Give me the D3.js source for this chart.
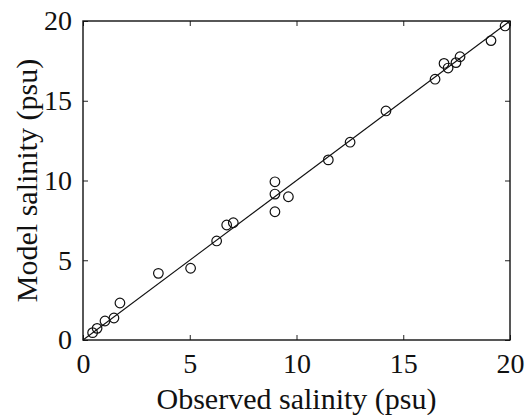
<!DOCTYPE html>
<html>
<head>
<meta charset="utf-8">
<script src="https://cdn.jsdelivr.net/npm/d3@7"></script>
</head>
<body style="margin:0">
<script>
// observed vs model salinity (psu)
const observed = [0.45, 0.66, 1.03, 1.45, 1.73, 3.53, 5.04, 6.26, 6.73, 7.04,
  8.99, 8.99, 8.99, 9.62, 11.49, 12.51, 14.19, 16.49, 16.91, 17.10,
  17.47, 17.66, 19.11, 19.77];
const model = [0.46, 0.73, 1.19, 1.38, 2.32, 4.18, 4.50, 6.21, 7.21, 7.35,
  8.04, 9.92, 9.15, 8.98, 11.29, 12.40, 14.36, 16.35, 17.34, 17.05,
  17.39, 17.76, 18.77, 19.69];
// 1:1 line
const lineX = [0, 20];
const lineY = [0, 20];
const ticks = [0, 5, 10, 15, 20];

const W = 525;
const H = 415;
const margin = { top: 21, right: 15, bottom: 75, left: 83 };
const FONT = 'Liberation Serif';

const svg = d3.select('body').append('svg')
  .attr('width', W)
  .attr('height', H)
  .attr('font-family', FONT);

const x = d3.scaleLinear().domain([0, 20]).range([margin.left, W - margin.right]);
const y = d3.scaleLinear().domain([0, 20]).range([H - margin.bottom, margin.top]);

// axes with inward ticks on all four sides
const tickLen = 5;
const axes = [
  [d3.axisBottom(x).tickPadding(13), `translate(0,${y(0)})`, true],
  [d3.axisTop(x), `translate(0,${y(20)})`, false],
  [d3.axisLeft(y).tickPadding(11), `translate(${x(0)},0)`, true],
  [d3.axisRight(y), `translate(${x(20)},0)`, false],
];
axes.forEach(([axis, tr, labels]) => {
  axis.tickValues(ticks).tickSizeInner(-tickLen).tickSizeOuter(0);
  if (!labels) axis.tickFormat('');
  svg.append('g')
    .attr('transform', tr)
    .call(axis)
    .attr('font-family', FONT)
    .attr('font-size', 28);
});

svg.selectAll('.domain').remove();
svg.selectAll('.tick line').attr('stroke', '#222').attr('stroke-width', 1);
svg.selectAll('.tick text')
  .attr('font-family', FONT)
  .attr('font-size', 28)
  .attr('fill', '#111')
  .style('font-family', "'Liberation Serif', serif", 'important');

// frame
svg.append('rect')
  .attr('x', x(0))
  .attr('y', y(20))
  .attr('width', x(20) - x(0))
  .attr('height', y(0) - y(20))
  .attr('fill', 'none')
  .attr('stroke', '#111')
  .attr('stroke-width', 1.4);

// fit line
svg.append('path')
  .datum(d3.zip(lineX, lineY))
  .attr('fill', 'none')
  .attr('stroke', '#111')
  .attr('stroke-width', 1.1)
  .attr('d', d3.line().x((d) => x(d[0])).y((d) => y(d[1])));

// points
svg.append('g')
  .selectAll('circle')
  .data(d3.zip(observed, model))
  .enter()
  .append('circle')
  .attr('cx', (d) => x(d[0]))
  .attr('cy', (d) => y(d[1]))
  .attr('r', 4.8)
  .attr('fill', 'none')
  .attr('stroke', '#111')
  .attr('stroke-width', 1.2);

// axis labels
svg.append('text')
  .attr('x', (x(0) + x(20)) / 2)
  .attr('y', 409)
  .attr('text-anchor', 'middle')
  .attr('font-family', FONT)
  .attr('font-size', 30)
  .attr('fill', '#111')
  .style('font-family', "'Liberation Serif', serif", 'important')
  .text('Observed salinity (psu)');

svg.append('text')
  .attr('transform', `translate(37,${(y(0) + y(20)) / 2}) rotate(-90)`)
  .attr('text-anchor', 'middle')
  .attr('font-family', FONT)
  .attr('font-size', 30)
  .attr('fill', '#111')
  .style('font-family', "'Liberation Serif', serif", 'important')
  .text('Model salinity (psu)');
</script>
</body>
</html>
